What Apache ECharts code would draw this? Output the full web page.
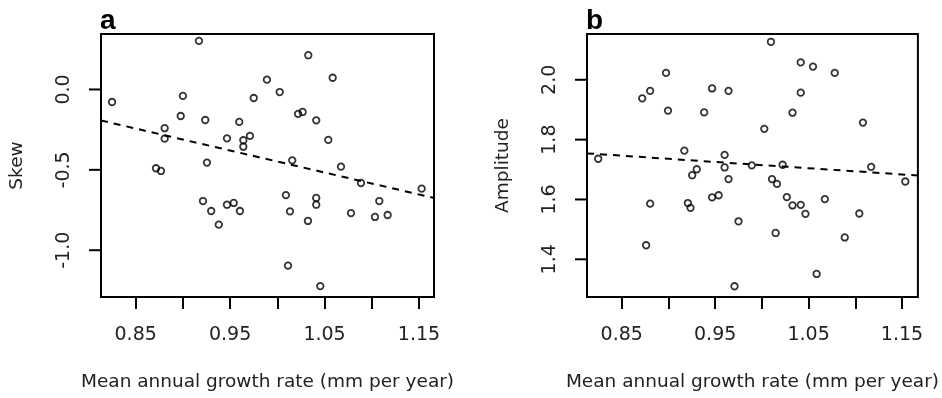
<!DOCTYPE html>
<html>
<head>
<meta charset="utf-8">
<script src="https://cdn.jsdelivr.net/npm/echarts@6/dist/echarts.min.js"></script>
<style>html,body{margin:0;padding:0;background:#fff;}#c{width:942px;height:398px;}</style>
</head>
<body>
<div id="c"></div>
<script>
// Panel a: Skew vs mean annual growth rate
var growthA = [0.917,0.825,0.900,0.8977,0.9237,0.8807,0.8807,0.9597,0.975,0.989,0.9467,0.971,0.964,0.964,0.9255,0.8715,0.8768,0.9213,0.930,0.938,0.9467,0.9538,0.9604,
  1.0328,1.0586,1.0025,1.022,1.0268,1.0412,1.054,1.0158,1.0674,1.0886,1.1528,1.0091,1.0412,1.0412,1.0134,1.0324,1.078,1.108,1.1034,1.1168,1.0113,1.0455];
var skew = [0.302,-0.078,-0.040,-0.165,-0.190,-0.241,-0.306,-0.202,-0.053,0.061,-0.304,-0.289,-0.316,-0.356,-0.455,-0.490,-0.507,-0.694,-0.756,-0.841,-0.717,-0.706,-0.756,
  0.213,0.073,-0.016,-0.152,-0.140,-0.192,-0.314,-0.441,-0.480,-0.582,-0.617,-0.657,-0.675,-0.717,-0.758,-0.818,-0.769,-0.694,-0.793,-0.781,-1.096,-1.223];
// Panel b: Amplitude vs mean annual growth rate
var growthB = [0.8974,0.8804,0.8719,0.8995,0.9467,0.9643,0.9382,0.8248,0.917,0.9601,0.9601,0.9303,0.9254,0.9643,0.9892,0.8804,0.9208,0.9236,0.9467,0.9537,0.975,0.8761,0.9707,
  1.0097,1.0416,1.0547,1.078,1.0416,1.0328,1.0026,1.1082,1.0222,1.117,1.1535,1.0108,1.0161,1.0267,1.0328,1.0416,1.0466,1.0674,1.1043,1.0147,1.0887,1.0586];
var amplitude = [2.023,1.963,1.938,1.897,1.971,1.963,1.891,1.736,1.763,1.749,1.707,1.701,1.681,1.668,1.714,1.586,1.588,1.572,1.607,1.614,1.527,1.447,1.310,
  2.127,2.058,2.044,2.023,1.957,1.890,1.836,1.857,1.716,1.709,1.660,1.668,1.652,1.608,1.580,1.582,1.552,1.601,1.553,1.488,1.473,1.351];
// Fitted dashed lines (end points read at the plot edges)
var fitAx = [0.8133, 1.1659], fitAy = [-0.193, -0.675];
var fitBx = [0.8128, 1.167],  fitBy = [1.754, 1.680];
// Axis ranges
var xRangeA = [0.8133, 1.1659], yRangeA = [-1.291, 0.345];
var xRangeB = [0.8128, 1.167],  yRangeB = [1.274, 2.153];
// Ticks
var xTicks = [0.85, 0.90, 0.95, 1.00, 1.05, 1.10, 1.15];
var xLabels = [0.85, 0.95, 1.05, 1.15];
var yTicksA = [-1.0, -0.5, 0.0];
var yTicksB = [1.4, 1.6, 1.8, 2.0];
var xTitle = 'Mean annual growth rate (mm per year)';

function zip(a, b) { return a.map(function (v, i) { return [v, b[i]]; }); }
var FONT = 'DejaVu Sans';
function xAxis(idx, r) {
  return {
    gridIndex: idx, type: 'value', min: r[0], max: r[1], position: 'bottom',
    splitLine: { show: false }, axisLine: { show: false, onZero: false },
    axisTick: { show: true, inside: false, length: 12, customValues: xTicks, lineStyle: { color: '#000', width: 2 } },
    axisLabel: { customValues: xLabels, formatter: function (v) { return v.toFixed(2); }, margin: 29, fontSize: 19, color: '#222', fontFamily: FONT },
    name: xTitle, nameLocation: 'middle', nameGap: 76,
    nameTextStyle: { fontSize: 18.5, color: '#222', fontFamily: FONT }
  };
}
function yAxis(idx, r, ticks, name) {
  return {
    gridIndex: idx, type: 'value', min: r[0], max: r[1], position: 'left',
    splitLine: { show: false }, axisLine: { show: false, onZero: false },
    axisTick: { show: false },
    axisLabel: { customValues: ticks, rotate: 90, formatter: function (v) { return v.toFixed(1); }, margin: 27, fontSize: 19, color: '#222', fontFamily: FONT },
    name: name, nameLocation: 'middle', nameGap: 74, nameRotate: 90,
    nameTextStyle: { fontSize: 18.5, color: '#222', fontFamily: FONT }
  };
}
var letters = [
  { type: 'text', left: 100, top: 7, style: { text: 'a', font: 'bold 28px "Liberation Sans"', fill: '#000' } },
  { type: 'text', left: 586, top: 7, style: { text: 'b', font: 'bold 28px "Liberation Sans"', fill: '#000' } }
];
var pt = { color: 'rgba(0,0,0,0)', borderColor: '#000', borderWidth: 1.8 };
var dash = { color: '#000', width: 2, type: [7, 6] };
var chart = echarts.init(document.getElementById('c'), null, { renderer: 'canvas' });
chart.setOption({
  animation: false,
  backgroundColor: '#fff',
  grid: [
    { left: 101, top: 34, width: 333, height: 263, show: true, borderColor: '#000', borderWidth: 2, backgroundColor: 'transparent' },
    { left: 587, top: 34, width: 333, height: 263, show: true, borderColor: '#000', borderWidth: 2, backgroundColor: 'transparent' }
  ],
  xAxis: [xAxis(0, xRangeA), xAxis(1, xRangeB)],
  yAxis: [yAxis(0, yRangeA, yTicksA, 'Skew'), yAxis(1, yRangeB, yTicksB, 'Amplitude')],
  graphic: letters,
  series: [
    { type: 'scatter', xAxisIndex: 0, yAxisIndex: 0, data: zip(growthA, skew), symbol: 'circle', symbolSize: 6.5, itemStyle: pt, silent: true },
    { type: 'line', xAxisIndex: 0, yAxisIndex: 0, data: zip(fitAx, fitAy), symbol: 'none', lineStyle: dash, silent: true },
    { type: 'scatter', xAxisIndex: 1, yAxisIndex: 1, data: zip(growthB, amplitude), symbol: 'circle', symbolSize: 6.5, itemStyle: pt, silent: true },
    { type: 'line', xAxisIndex: 1, yAxisIndex: 1, data: zip(fitBx, fitBy), symbol: 'none', lineStyle: dash, silent: true }
  ]
});
// y-axis tick marks: pixel positions come from the chart's own scales
function tickEls() {
  var els = [];
  [[0, xRangeA[0], yTicksA], [1, xRangeB[0], yTicksB]].forEach(function (cfg) {
    var i = cfg[0];
    var px = chart.convertToPixel({ xAxisIndex: i }, cfg[1]);
    cfg[2].forEach(function (v) {
      var py = chart.convertToPixel({ yAxisIndex: i }, v);
      if (isFinite(px) && isFinite(py)) {
        els.push({ type: 'line', z: 100, silent: true,
          shape: { x1: px - 12, y1: py, x2: px, y2: py },
          style: { stroke: '#000', lineWidth: 2 } });
      }
    });
  });
  return els;
}
function applyTicks() {
  try {
    var els = tickEls();
    if (els.length) { chart.setOption({ graphic: letters.concat(els) }); }
  } catch (e) {}
}
applyTicks();
setTimeout(applyTicks, 50);
</script>
</body>
</html>
